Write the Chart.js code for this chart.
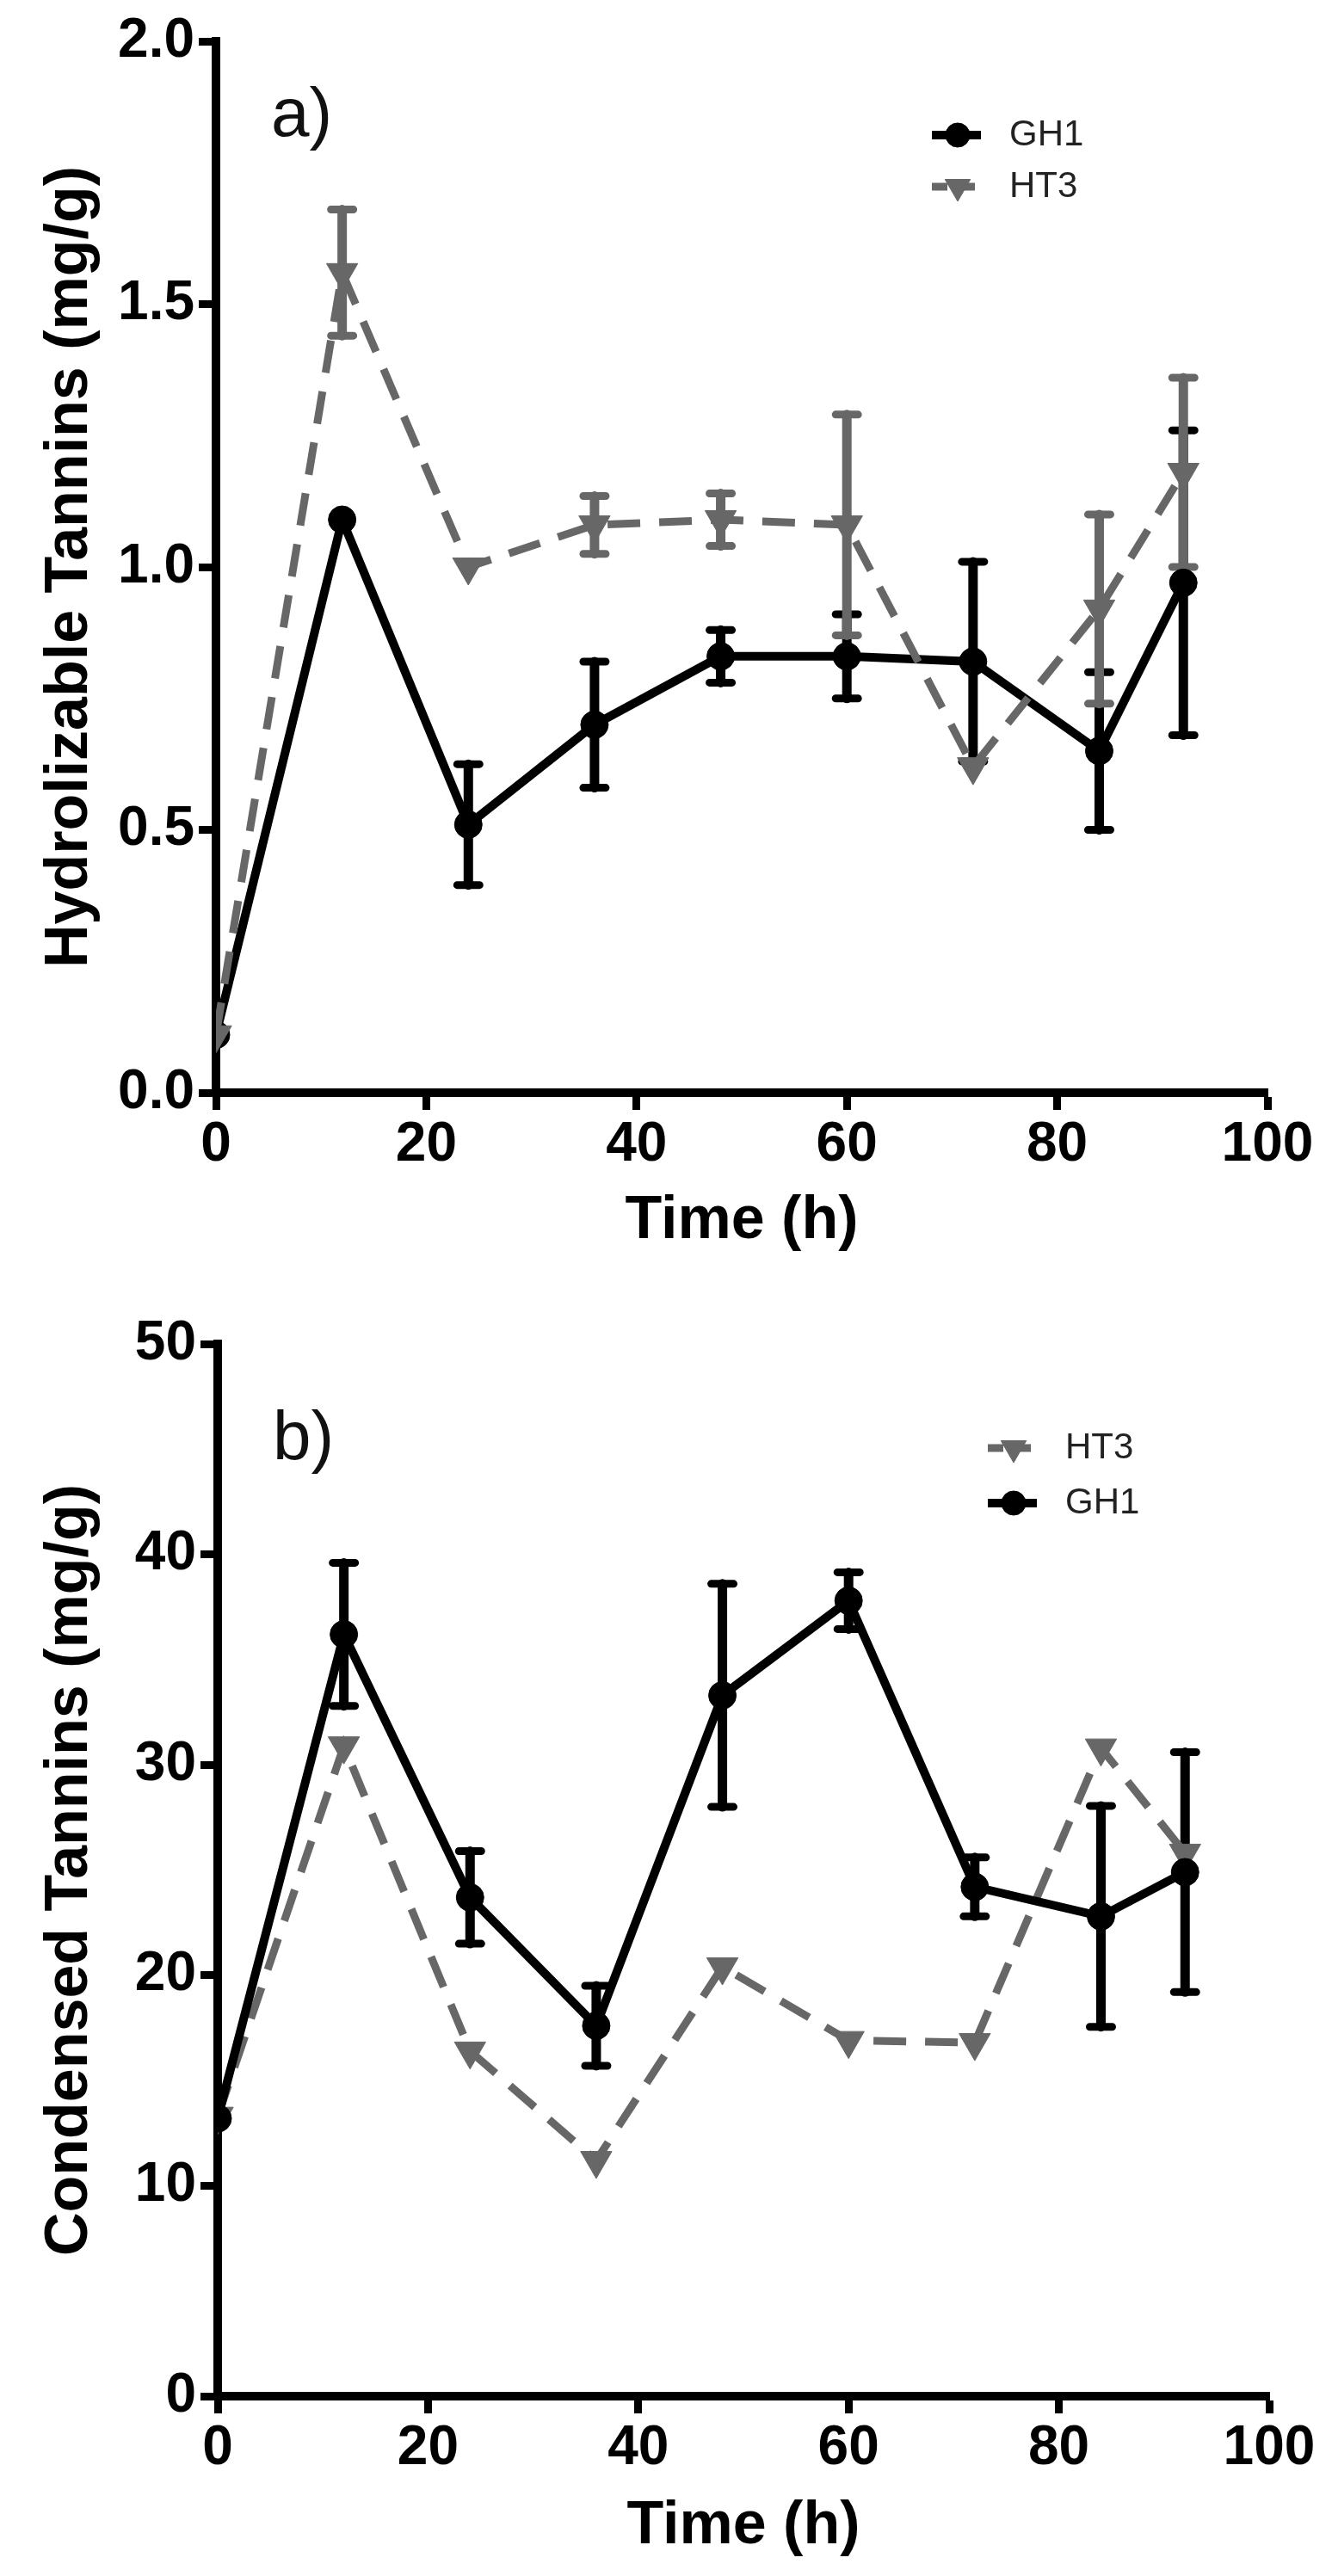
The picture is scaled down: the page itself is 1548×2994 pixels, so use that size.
<!DOCTYPE html>
<html>
<head>
<meta charset="utf-8">
<title>Tannins over time</title>
<script src="https://cdn.jsdelivr.net/npm/chart.js"></script>
<style>
  html, body { margin: 0; padding: 0; background: #fff; }
  canvas { position: absolute; left: 0; }
  #chartA { top: 0; }
  #chartB { top: 1497px; }
</style>
</head>
<body>
<canvas id="chartA" width="1548" height="1497"></canvas>
<canvas id="chartB" width="1548" height="1497"></canvas>
<script>
// sampling times (h)
const times = [0, 12, 24, 36, 48, 60, 72, 84, 92];

// a) hydrolizable tannins (mg/g)
const hydroGH1 = [0.11, 1.09, 0.51, 0.70, 0.83, 0.83, 0.82, 0.65, 0.97];
const hydroGH1Err = [0, 0, 0.115, 0.12, 0.05, 0.08, 0.19, 0.15, 0.29];
const hydroHT3 = [0.11, 1.56, 1.00, 1.08, 1.09, 1.08, 0.62, 0.92, 1.18];
const hydroHT3Err = [0, 0.12, 0, 0.055, 0.05, 0.21, 0, 0.18, 0.18];

// b) condensed tannins (mg/g)
const condGH1 = [13.2, 36.2, 23.7, 17.6, 33.3, 37.8, 24.2, 22.8, 24.9];
const condGH1Err = [0, 3.4, 2.2, 1.9, 5.3, 1.35, 1.4, 5.25, 5.7];
const condHT3 = [13.3, 30.9, 16.4, 11.2, 20.4, 16.9, 16.8, 30.8, 25.8];

const xTicks = [0, 20, 40, 60, 80, 100];
const hydroTicks = [0, 0.5, 1.0, 1.5, 2.0];
const condTicks = [0, 10, 20, 30, 40, 50];

Chart.defaults.font.family = '"Liberation Sans", Arial, sans-serif';
Chart.defaults.color = '#000';

const BLACK = '#000000';
const GREY = '#676767';

function points(vals) {
  return times.map((t, i) => ({ x: t, y: vals[i] }));
}

function gh1(vals, errs, order) {
  return {
    label: 'GH1', data: points(vals), errors: errs, order: order,
    borderColor: BLACK, backgroundColor: BLACK, borderWidth: 10,
    pointStyle: 'circle', pointRadius: 16, pointBorderWidth: 1,
    pointBackgroundColor: BLACK, pointBorderColor: BLACK, tension: 0
  };
}

function ht3(vals, errs, order) {
  return {
    label: 'HT3', data: points(vals), errors: errs, order: order,
    borderColor: GREY, backgroundColor: GREY, borderWidth: 9, borderDash: [38, 22],
    pointStyle: 'triangle', pointRotation: 180, pointRadius: 21, pointBorderWidth: 1,
    pointBackgroundColor: GREY, pointBorderColor: GREY, tension: 0
  };
}

// vertical error bars with caps, drawn through the chart's own scales
const errorBars = {
  id: 'errorBars',
  beforeDatasetsDraw(chart) {
    const { ctx, scales: { x, y } } = chart;
    chart.data.datasets.forEach(ds => {
      if (!ds.errors) return;
      ctx.save();
      ctx.strokeStyle = ds.borderColor;
      ctx.lineCap = 'round';
      ds.data.forEach((p, j) => {
        const e = ds.errors[j];
        if (!e) return;
        const px = x.getPixelForValue(p.x);
        const top = y.getPixelForValue(p.y + e);
        const bot = y.getPixelForValue(p.y - e);
        ctx.lineWidth = 11;
        ctx.beginPath();
        ctx.moveTo(px, top);
        ctx.lineTo(px, bot);
        ctx.stroke();
        ctx.lineWidth = 9;
        ctx.beginPath();
        ctx.moveTo(px - 13, top); ctx.lineTo(px + 13, top);
        ctx.moveTo(px - 13, bot); ctx.lineTo(px + 13, bot);
        ctx.stroke();
      });
      ctx.restore();
    });
  }
};

// Prism-like legend (line + marker + label) and the panel letter
const panelDecor = {
  id: 'panelDecor',
  afterDraw(chart, args, opts) {
    const ctx = chart.ctx;
    ctx.save();
    ctx.fillStyle = '#111';
    ctx.font = '80px "Liberation Sans", Arial, sans-serif';
    ctx.textAlign = 'left';
    ctx.textBaseline = 'alphabetic';
    ctx.fillText(opts.letter, opts.letterX, opts.letterY);

    chart.data.datasets.forEach((ds, i) => {
      const cx = opts.legendX;
      const cy = opts.legendY + i * opts.legendGap;
      ctx.strokeStyle = ds.borderColor;
      ctx.fillStyle = ds.pointBackgroundColor;
      ctx.lineWidth = ds.borderWidth;
      ctx.setLineDash(ds.borderDash ? [18, 14] : []);
      ctx.beginPath();
      ctx.moveTo(cx - 30, cy);
      ctx.lineTo(cx + 27, cy);
      ctx.stroke();
      ctx.setLineDash([]);
      ctx.lineWidth = 1;
      Chart.helpers.drawPoint(ctx, {
        pointStyle: ds.pointStyle, rotation: ds.pointRotation || 0,
        radius: ds.pointStyle === 'triangle' ? 17 : 14, borderWidth: 1
      }, cx, cy);
      ctx.fillStyle = '#222';
      ctx.font = '42px "Liberation Sans", Arial, sans-serif';
      ctx.textBaseline = 'middle';
      ctx.fillText(ds.label, opts.textX, cy);
    });
    ctx.restore();
  }
};

function makeChart(id, datasets, yMax, yStep, yTicks, yTitle, yDigits, geo, decor) {
  return new Chart(document.getElementById(id), {
    type: 'line',
    data: { datasets: datasets },
    plugins: [errorBars, panelDecor],
    options: {
      responsive: false,
      animation: false,
      layout: { padding: { top: geo.top, right: geo.right, left: 0, bottom: 0 } },
      plugins: { legend: { display: false }, tooltip: { enabled: false }, panelDecor: decor },
      scales: {
        x: {
          type: 'linear', min: 0, max: 100,
          afterBuildTicks: s => { s.ticks = xTicks.map(v => ({ value: v })); },
          afterFit: s => { s.height = geo.xHeight; },
          ticks: { color: '#000', padding: 3, font: { size: 64, weight: 'bold' } },
          grid: { drawOnChartArea: false, drawTicks: true, tickLength: 20, tickWidth: 9, tickColor: '#000' },
          border: { display: true, color: '#000', width: 10 },
          title: { display: true, text: 'Time (h)', color: '#000',
                   font: { size: 70, weight: 'bold' }, padding: { top: 0, bottom: geo.xTitlePad } }
        },
        y: {
          min: 0, max: yMax,
          afterBuildTicks: s => { s.ticks = yTicks.map(v => ({ value: v })); },
          afterFit: s => { s.width = geo.yWidth; },
          ticks: { color: '#000', padding: 5, stepSize: yStep,
                   font: { size: 64, weight: 'bold' },
                   callback: v => Number(v).toFixed(yDigits) },
          grid: { drawOnChartArea: false, drawTicks: true, tickLength: 20, tickWidth: 9, tickColor: '#000' },
          border: { display: true, color: '#000', width: 10 },
          title: { display: true, text: yTitle, color: '#000',
                   font: { size: 70, weight: 'bold' }, padding: { top: 40, bottom: 0 } }
        }
      }
    }
  });
}

makeChart('chartA',
  [gh1(hydroGH1, hydroGH1Err, 1), ht3(hydroHT3, hydroHT3Err, 0)],
  2, 0.5, hydroTicks, 'Hydrolizable Tannins (mg/g)', 1,
  { top: 48, right: 75, xHeight: 227, yWidth: 251, xTitlePad: 35 },
  { letter: 'a)', letterX: 315, letterY: 158, legendX: 1113, legendY: 157, legendGap: 60, textX: 1173 });

makeChart('chartB',
  [ht3(condHT3, null, 1), gh1(condGH1, condGH1Err, 0)],
  50, 10, condTicks, 'Condensed Tannins (mg/g)', 0,
  { top: 65, right: 73, xHeight: 209, yWidth: 253, xTitlePad: 15 },
  { letter: 'b)', letterX: 317, letterY: 199, legendX: 1178, legendY: 186, legendGap: 64, textX: 1238 });
</script>
</body>
</html>
